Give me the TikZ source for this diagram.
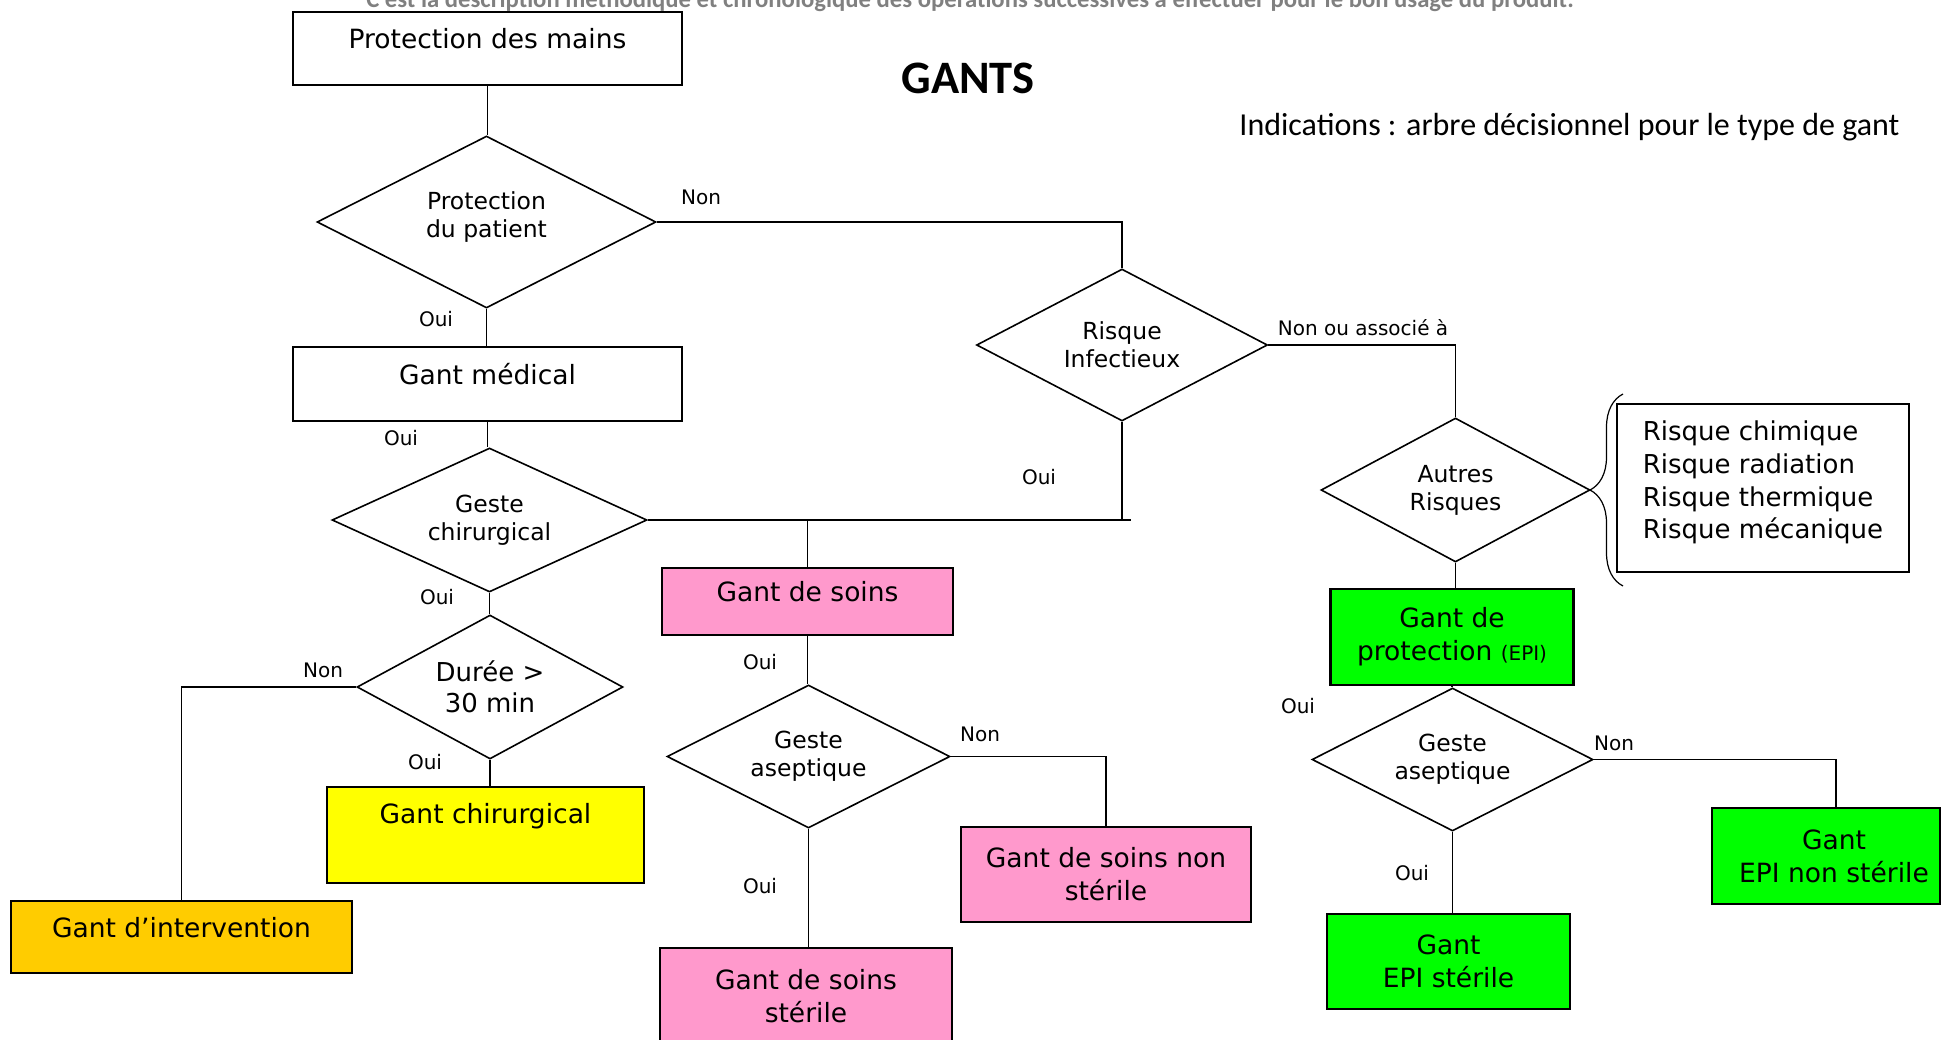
\documentclass[tikz,border=0pt]{standalone}
\usepackage{fontspec}
\setmainfont{DejaVu Sans}
\newfontfamily\calfont{Carlito}
\usetikzlibrary{shapes.geometric}
\usetikzlibrary{decorations.pathreplacing}

\definecolor{soinpink}{HTML}{FF99CC}
\definecolor{chiryellow}{HTML}{FFFF00}
\definecolor{intorange}{HTML}{FFCC00}
\definecolor{epigreen}{HTML}{00FF00}
\definecolor{introgray}{HTML}{808080}

\begin{document}
\begin{tikzpicture}[x=1pt,y=-1pt]

\tikzstyle{box}=[rectangle, draw=black, line width=2.2pt, inner sep=0pt, align=center, font=\fontsize{26.5}{33}\selectfont]
\tikzstyle{oneline}=[text height=19pt, text depth=19pt]
\tikzstyle{decision}=[diamond, draw=black, line width=1.6pt, inner sep=0pt, aspect=2, align=center, fill=white, font=\fontsize{23.5}{28}\selectfont]
\tikzstyle{answer}=[inner sep=0pt, font=\fontsize{20}{24}\selectfont]
\tikzstyle{connect}=[line width=1.5pt]

\useasboundingbox (0,0) rectangle (1941,1039);

\node[text=introgray, anchor=base, font=\calfont\bfseries\fontsize{24.7}{30}\selectfont] (intro) at (970,7) {C’est la description méthodique et chronologique des opérations successives à effectuer pour le bon usage du produit.};
\node[font=\calfont\bfseries\fontsize{46.5}{56}\selectfont] (title) at (968,78) {GANTS};
\node[anchor=east, font=\calfont\fontsize{32}{38}\selectfont] (indic) at (1903,127) {Indications : arbre décisionnel pour le type de gant};


\node[box, oneline, minimum width=389pt, minimum height=73pt] (mains) at (487.5,48.5) {Protection des mains};
\node[decision, minimum width=339pt, minimum height=172pt, text depth=15pt] (patient) at (486.5,222) {Protection\\du patient};
\node[box, oneline, minimum width=389pt, minimum height=74pt] (medical) at (487.5,384) {Gant médical};
\node[decision, minimum width=315pt, minimum height=144pt] (gchir) at (489.5,520) {Geste\\chirurgical};
\node[decision, minimum width=266pt, minimum height=144pt, font=\fontsize{26}{31}\selectfont] (duree) at (490,687) {Durée >\\30 min};
\node[box, fill=chiryellow, minimum width=317pt, minimum height=96pt, text height=19pt, text depth=43pt] (chir) at (485.5,835) {Gant chirurgical};
\node[box, oneline, fill=intorange, minimum width=341pt, minimum height=72pt] (interv) at (181.5,937) {Gant d’intervention};

\node[decision, minimum width=291pt, minimum height=152pt] (infect) at (1122,345) {Risque\\Infectieux};
\node[box, oneline, fill=soinpink, minimum width=291pt, minimum height=67pt] (soins) at (807.5,601.5) {Gant de soins};
\node[decision, minimum width=283pt, minimum height=143pt] (asepsoin) at (808.5,756.5) {Geste\\aseptique};
\node[box, fill=soinpink, minimum width=290pt, minimum height=95pt] (soinsns) at (1106,874.5) {Gant de soins non\\stérile};
\node[box, fill=soinpink, minimum width=292pt, minimum height=96pt] (soinsst) at (806,996) {Gant de soins\\stérile};

\node[decision, minimum width=269pt, minimum height=144pt] (autres) at (1455.5,490) {Autres\\Risques};
\node[box, align=left, minimum width=292pt, minimum height=168pt, text depth=16pt, font=\fontsize{26}{32.7}\selectfont] (risques) at (1763,488) {Risque chimique\\Risque radiation\\Risque thermique\\Risque mécanique};
\node[box, fill=epigreen, minimum width=243pt, minimum height=96pt] (protec) at (1452,637) {Gant de\\protection {\fontsize{20}{24}\selectfont(EPI)}};
\node[decision, minimum width=281pt, minimum height=143pt] (asepepi) at (1452.5,759.5) {Geste\\aseptique};
\node[box, fill=epigreen, minimum width=243pt, minimum height=95pt] (epist) at (1448.5,961.5) {Gant\\EPI stérile};
\node[box, fill=epigreen, minimum width=228pt, minimum height=96pt] (epins) at (1826,856) {\hspace*{16pt}Gant\\\hspace*{16pt}EPI non stérile};


\node[answer] (nonA) at (701,197) {Non};
\node[answer] (ouiA) at (436,319) {Oui};
\node[answer] (ouiB) at (401,438) {Oui};
\node[answer] (ouiC) at (437,597) {Oui};
\node[answer] (nonD) at (323,670) {Non};
\node[answer] (ouiD) at (425,762) {Oui};
\node[answer] (ouiI) at (1039,477) {Oui};
\node[answer] (nonI) at (1363,328) {Non ou associé à};
\node[answer] (ouiS) at (760,662) {Oui};
\node[answer] (nonS) at (980,734) {Non};
\node[answer] (ouiSb) at (760,886) {Oui};
\node[answer] (ouiE) at (1298,706) {Oui};
\node[answer] (nonE) at (1614,743) {Non};
\node[answer] (ouiEb) at (1412,873) {Oui};

\coordinate (jonction) at (1131,520);

\draw[connect] (mains.south) -- (mains.south |- patient.north);
\draw[connect] (patient.east) -| (infect.north);
\draw[connect] (patient.south) -- (patient.south |- medical.north);
\draw[connect] (medical.south) -- (medical.south |- gchir.north);
\draw[connect] (gchir.east) -- (jonction);
\draw[connect] (infect.south) -- (infect.south |- jonction);
\draw[connect] (soins.north |- jonction) -- (soins.north);
\draw[connect] (soins.south) -- (soins.south |- asepsoin.north);
\draw[connect] (asepsoin.east) -| (soinsns.north);
\draw[connect] (asepsoin.south) -- (asepsoin.south |- soinsst.north);
\draw[connect] (gchir.south) -- (gchir.south |- duree.north);
\draw[connect] (duree.west) -| (interv.north);
\draw[connect] (duree.south) -- (duree.south |- chir.north);
\draw[connect] (infect.east) -| (autres.north);
\draw[connect] (autres.south) -- (autres.south |- protec.north);
\draw[connect] (protec.south) -- (protec.south |- asepepi.north);
\draw[connect] (asepepi.east) -| ([xshift=10pt]epins.north);
\draw[connect] (asepepi.south) -- (asepepi.south |- epist.north);

%\draw[connect] (autres.east) -- (risques.west);
\draw[line width=1.2pt, decorate, decoration={brace, amplitude=33pt}] (1623,586) -- (1623,394);

\end{tikzpicture}
\end{document}
